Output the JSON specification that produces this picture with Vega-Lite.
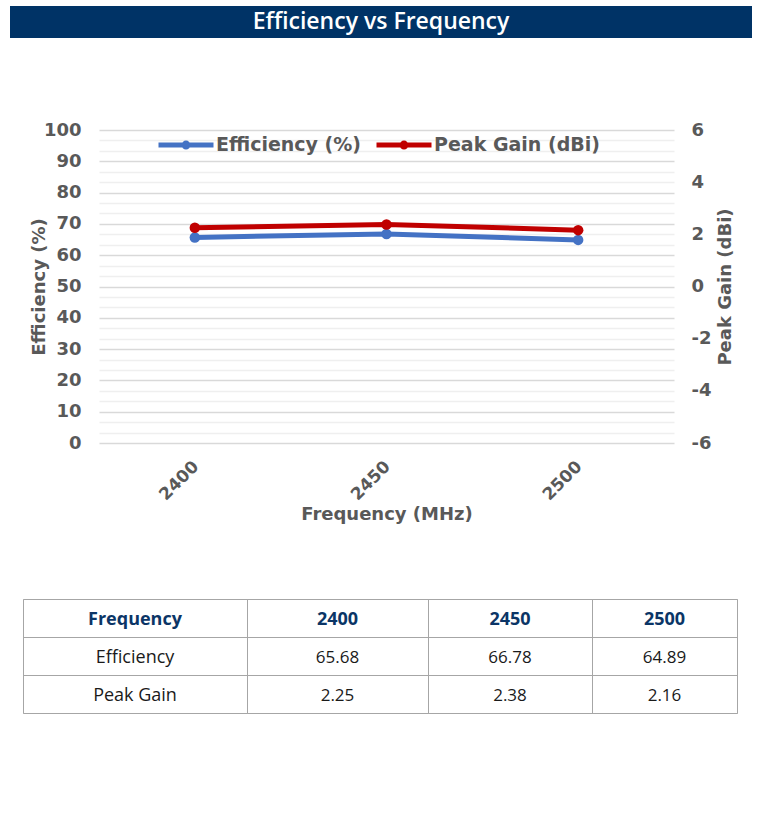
{
  "$schema": "https://vega.github.io/schema/vega-lite/v6.json",
  "background": "white",
  "padding": {"left": 10, "top": 6, "right": 0, "bottom": 0},
  "config": {
    "font": "DejaVu Sans",
    "view": {"stroke": null},
    "axis": {"labelColor": "#595959", "titleColor": "#595959", "labelFontWeight": "bold", "titleFontWeight": "bold"}
  },
  "datasets": {
    "chart": [
      {"Frequency": "2400", "Efficiency": 65.68, "PeakGain": 2.25},
      {"Frequency": "2450", "Efficiency": 66.78, "PeakGain": 2.38},
      {"Frequency": "2500", "Efficiency": 64.89, "PeakGain": 2.16}
    ],
    "table": [
      {"col": "c0", "row": "r0", "text": "Frequency"},
      {"col": "c0", "row": "r1", "text": "Efficiency"},
      {"col": "c0", "row": "r2", "text": "Peak Gain"},
      {"col": "c1", "row": "r0", "text": "2400"},
      {"col": "c1", "row": "r1", "text": "65.68"},
      {"col": "c1", "row": "r2", "text": "2.25"},
      {"col": "c2", "row": "r0", "text": "2450"},
      {"col": "c2", "row": "r1", "text": "66.78"},
      {"col": "c2", "row": "r2", "text": "2.38"},
      {"col": "c3", "row": "r0", "text": "2500"},
      {"col": "c3", "row": "r1", "text": "64.89"},
      {"col": "c3", "row": "r2", "text": "2.16"}
    ],
    "title": [{"t": "Efficiency vs Frequency"}],
    "empty": []
  },
  "spacing": 83,
  "vconcat": [
    {
      "width": 742,
      "height": 32,
      "view": {"fill": "#003366", "stroke": null},
      "data": {"name": "title"},
      "mark": {"type": "text", "font": "Open Sans", "fontSize": 23, "fontWeight": 600, "color": "white", "baseline": "middle", "letterSpacing": 2.1},
      "encoding": {"text": {"field": "t"}}
    },
    {
      "spacing": 74,
      "vconcat": [
        {
          "spacing": 0,
          "hconcat": [
            {
              "width": 20, "height": 1, "view": {"fill": "white", "stroke": null},
              "data": {"name": "empty"},
              "mark": "point"
            },
            {
              "width": 575,
              "height": 313,
              "data": {"name": "chart"},
              "layer": [
                {
                  "mark": {"type": "line", "strokeWidth": 5, "point": {"filled": true, "size": 110}},
                  "encoding": {
                    "x": {
                      "field": "Frequency", "type": "ordinal",
                      "scale": {"type": "point", "padding": 0.5},
                      "axis": {"labelAngle": -45, "labelFontSize": 17, "ticks": false, "domain": false, "grid": false, "labelPadding": 15, "labelOffset": -5, "title": "Frequency (MHz)", "titleFontSize": 18, "titlePadding": 3}
                    },
                    "y": {
                      "field": "Efficiency", "type": "quantitative",
                      "scale": {"domain": [0, 100], "nice": false, "zero": false},
                      "axis": {
                        "orient": "left",
                        "values": [0, 3.3333, 6.6667, 10, 13.3333, 16.6667, 20, 23.3333, 26.6667, 30, 33.3333, 36.6667, 40, 43.3333, 46.6667, 50, 53.3333, 56.6667, 60, 63.3333, 66.6667, 70, 73.3333, 76.6667, 80, 83.3333, 86.6667, 90, 93.3333, 96.6667, 100],
                        "labelExpr": "abs(datum.value - round(datum.value/10)*10) < 0.01 ? '' + round(datum.value) : ''",
                        "grid": true,
                        "gridColor": {"condition": {"test": "abs(datum.value - round(datum.value/10)*10) < 0.01", "value": "#d9d9d9"}, "value": "#efefef"},
                        "gridWidth": 1.3,
                        "ticks": false, "domain": false,
                        "labelFontSize": 18, "labelPadding": 18, "labelOverlap": false, "labelFlush": false,
                        "title": "Efficiency (%)", "titleFontSize": 18, "titlePadding": -5
                      }
                    },
                    "color": {
                      "datum": "Efficiency (%)", "type": "nominal",
                      "scale": {"domain": ["Efficiency (%)", "Peak Gain (dBi)"], "range": ["#4472C4", "#C00000"]},
                      "legend": {
                        "orient": "none", "direction": "horizontal", "legendX": 146, "legendY": 109, "title": null,
                        "padding": 0,
                        "symbolType": "M-1,0L1,0M-0.07,0A0.07,0.07,0,1,0,0.07,0A0.07,0.07,0,1,0,-0.07,0",
                        "symbolSize": 3025, "symbolStrokeWidth": 5, "symbolOpacity": 1,
                        "labelFontSize": 19, "labelFontWeight": "bold", "labelColor": "#595959", "labelOffset": 0, "columnPadding": 4, "labelLimit": 400
                      }
                    }
                  }
                },
                {
                  "mark": {"type": "line", "strokeWidth": 5, "point": {"filled": true, "size": 110}},
                  "encoding": {
                    "x": {"field": "Frequency", "type": "ordinal", "scale": {"type": "point", "padding": 0.5}},
                    "y": {
                      "field": "PeakGain", "type": "quantitative",
                      "scale": {"domain": [-6, 6], "nice": false, "zero": false},
                      "axis": {
                        "orient": "right",
                        "values": [-6, -4, -2, 0, 2, 4, 6],
                        "labelExpr": "'' + datum.value",
                        "grid": false, "ticks": false, "domain": false,
                        "labelFontSize": 18, "labelPadding": 17, "labelOverlap": false, "labelFlush": false,
                        "title": "Peak Gain (dBi)", "titleFontSize": 18, "titleAngle": 270, "titleBaseline": "top", "titlePadding": 6
                      }
                    },
                    "color": {"datum": "Peak Gain (dBi)", "type": "nominal"}
                  }
                }
              ],
              "resolve": {"scale": {"y": "independent"}}
            }
          ]
        },
        {
          "spacing": 0,
          "bounds": "flush",
          "hconcat": [
            {
              "width": 13, "height": 1, "view": {"fill": "white", "stroke": null},
              "data": {"name": "empty"},
              "mark": "point"
            },
            {
              "width": 224, "height": 114, "view": {"stroke": "#a6a6a6"},
              "data": {"name": "table"},
              "transform": [{"filter": "datum.col == 'c0'"}],
              "layer": [
                {"transform": [{"filter": "datum.row == 'r0'"}], "mark": {"type": "text", "font": "Open Sans", "fontSize": 18, "fontWeight": "bold", "color": "#0b3566", "letterSpacing": 2, "dy": 2},
                 "encoding": {"y": {"field": "row", "type": "nominal", "scale": {"domain": ["r0", "r1", "r2"], "paddingInner": 0, "paddingOuter": 0}, "axis": {"grid": true, "tickBand": "extent", "labels": false, "ticks": false, "domain": false, "title": null, "gridColor": "#a6a6a6"}}, "text": {"field": "text"}}},
                {"transform": [{"filter": "datum.row != 'r0'"}], "mark": {"type": "text", "font": "Open Sans", "fontSize": 18, "color": "#1a1a1a", "letterSpacing": 2.5, "dy": 2},
                 "encoding": {"y": {"field": "row", "type": "nominal", "scale": {"domain": ["r0", "r1", "r2"], "paddingInner": 0, "paddingOuter": 0}}, "text": {"field": "text"}}}
              ]
            },
            {
              "width": 181, "height": 114, "view": {"stroke": "#a6a6a6"},
              "data": {"name": "table"},
              "transform": [{"filter": "datum.col == 'c1'"}],
              "layer": [
                {"transform": [{"filter": "datum.row == 'r0'"}], "mark": {"type": "text", "font": "Open Sans", "fontSize": 18, "fontWeight": "bold", "color": "#0b3566", "letterSpacing": 2, "dy": 2},
                 "encoding": {"y": {"field": "row", "type": "nominal", "scale": {"domain": ["r0", "r1", "r2"], "paddingInner": 0, "paddingOuter": 0}, "axis": {"grid": true, "tickBand": "extent", "labels": false, "ticks": false, "domain": false, "title": null, "gridColor": "#a6a6a6"}}, "text": {"field": "text"}}},
                {"transform": [{"filter": "datum.row != 'r0'"}], "mark": {"type": "text", "font": "Open Sans", "fontSize": 17, "color": "#1a1a1a", "letterSpacing": 1.4, "dy": 2},
                 "encoding": {"y": {"field": "row", "type": "nominal", "scale": {"domain": ["r0", "r1", "r2"], "paddingInner": 0, "paddingOuter": 0}}, "text": {"field": "text"}}}
              ]
            },
            {
              "width": 164, "height": 114, "view": {"stroke": "#a6a6a6"},
              "data": {"name": "table"},
              "transform": [{"filter": "datum.col == 'c2'"}],
              "layer": [
                {"transform": [{"filter": "datum.row == 'r0'"}], "mark": {"type": "text", "font": "Open Sans", "fontSize": 18, "fontWeight": "bold", "color": "#0b3566", "letterSpacing": 2, "dy": 2},
                 "encoding": {"y": {"field": "row", "type": "nominal", "scale": {"domain": ["r0", "r1", "r2"], "paddingInner": 0, "paddingOuter": 0}, "axis": {"grid": true, "tickBand": "extent", "labels": false, "ticks": false, "domain": false, "title": null, "gridColor": "#a6a6a6"}}, "text": {"field": "text"}}},
                {"transform": [{"filter": "datum.row != 'r0'"}], "mark": {"type": "text", "font": "Open Sans", "fontSize": 17, "color": "#1a1a1a", "letterSpacing": 1.4, "dy": 2},
                 "encoding": {"y": {"field": "row", "type": "nominal", "scale": {"domain": ["r0", "r1", "r2"], "paddingInner": 0, "paddingOuter": 0}}, "text": {"field": "text"}}}
              ]
            },
            {
              "width": 145, "height": 114, "view": {"stroke": "#a6a6a6"},
              "data": {"name": "table"},
              "transform": [{"filter": "datum.col == 'c3'"}],
              "layer": [
                {"transform": [{"filter": "datum.row == 'r0'"}], "mark": {"type": "text", "font": "Open Sans", "fontSize": 18, "fontWeight": "bold", "color": "#0b3566", "letterSpacing": 2, "dy": 2},
                 "encoding": {"y": {"field": "row", "type": "nominal", "scale": {"domain": ["r0", "r1", "r2"], "paddingInner": 0, "paddingOuter": 0}, "axis": {"grid": true, "tickBand": "extent", "labels": false, "ticks": false, "domain": false, "title": null, "gridColor": "#a6a6a6"}}, "text": {"field": "text"}}},
                {"transform": [{"filter": "datum.row != 'r0'"}], "mark": {"type": "text", "font": "Open Sans", "fontSize": 17, "color": "#1a1a1a", "letterSpacing": 1.4, "dy": 2},
                 "encoding": {"y": {"field": "row", "type": "nominal", "scale": {"domain": ["r0", "r1", "r2"], "paddingInner": 0, "paddingOuter": 0}}, "text": {"field": "text"}}}
              ]
            }
          ]
        }
      ]
    }
  ]
}
